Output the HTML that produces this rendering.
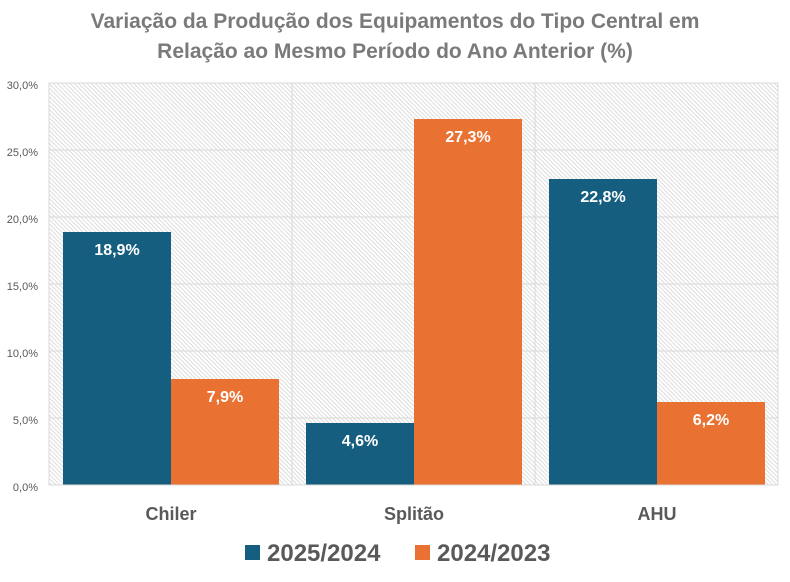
<!DOCTYPE html>
<html><head><meta charset="utf-8"><style>body{margin:0;background:#fff}</style></head><body>
<svg width="790" height="577" xmlns="http://www.w3.org/2000/svg" font-family="Liberation Sans, sans-serif">
<defs>
<pattern id="h" width="3" height="3" patternUnits="userSpaceOnUse" patternTransform="rotate(45)">
<rect width="3" height="3" fill="#fff"/><rect width="3" height="1" fill="#dcdcdc"/>
</pattern>
</defs>
<rect width="790" height="577" fill="#fff"/>
<text x="395" y="28" text-anchor="middle" font-size="21" font-weight="bold" fill="#7a7a7a">Variação da Produção dos Equipamentos do Tipo Central em</text>
<text x="395" y="58" text-anchor="middle" font-size="21" font-weight="bold" fill="#7a7a7a">Relação ao Mesmo Período do Ano Anterior (%)</text>
<rect x="49" y="83" width="729" height="402" fill="url(#h)" stroke="#d9d9d9"/>
<g stroke="#d9d9d9" stroke-width="1">
<line x1="49" y1="150" x2="778" y2="150"/><line x1="49" y1="217" x2="778" y2="217"/>
<line x1="49" y1="284" x2="778" y2="284"/><line x1="49" y1="351" x2="778" y2="351"/>
<line x1="49" y1="418" x2="778" y2="418"/>
<line x1="292" y1="83" x2="292" y2="485"/><line x1="535" y1="83" x2="535" y2="485"/>
</g>
<g font-size="11" fill="#595959" text-anchor="end">
<text x="38" y="89">30,0%</text><text x="38" y="156">25,0%</text><text x="38" y="223">20,0%</text>
<text x="38" y="290">15,0%</text><text x="38" y="357">10,0%</text><text x="38" y="424">5,0%</text><text x="38" y="491">0,0%</text>
</g>
<g fill="#165e7f">
<rect x="63" y="232" width="108" height="253"/><rect x="306" y="423" width="108" height="62"/><rect x="549" y="179" width="108" height="306"/>
</g>
<g fill="#e97132">
<rect x="171" y="379" width="108" height="106"/><rect x="414" y="119" width="108" height="366"/><rect x="657" y="402" width="108" height="83"/>
</g>
<line x1="49" y1="485" x2="778" y2="485" stroke="#d9d9d9"/>
<g font-size="16" font-weight="bold" fill="#fff" text-anchor="middle">
<text x="117" y="255">18,9%</text><text x="225" y="402">7,9%</text>
<text x="360" y="446">4,6%</text><text x="468" y="142">27,3%</text>
<text x="603" y="202">22,8%</text><text x="711" y="425">6,2%</text>
</g>
<g font-size="18" font-weight="bold" fill="#595959" text-anchor="middle">
<text x="171" y="520">Chiler</text><text x="414" y="520">Splitão</text><text x="657" y="520">AHU</text>
</g>
<rect x="245" y="545" width="15" height="15" fill="#165e7f"/>
<text x="267" y="561" font-size="24" font-weight="bold" fill="#595959">2025/2024</text>
<rect x="415" y="545" width="15" height="15" fill="#e97132"/>
<text x="437" y="561" font-size="24" font-weight="bold" fill="#595959">2024/2023</text>
</svg>
</body></html>
